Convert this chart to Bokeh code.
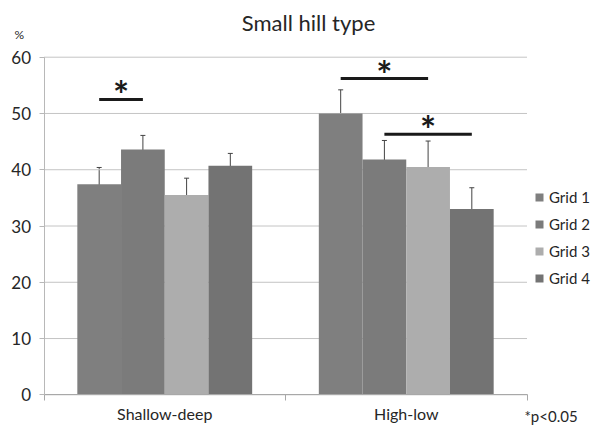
import numpy as np
from bokeh.plotting import figure
from bokeh.models import (Range1d, FixedTicker, ColumnDataSource, Whisker, TeeHead,
                          Legend, LegendItem, Label)
from bokeh.core.properties import value
from bokeh.embed import file_html
from bokeh.resources import INLINE

# ---- data ----
categories = ["Shallow-deep", "High-low"]
grids = ["Grid 1", "Grid 2", "Grid 3", "Grid 4"]
grid1_mean = [37.4, 50.0]
grid2_mean = [43.6, 41.8]
grid3_mean = [35.5, 40.5]
grid4_mean = [40.7, 33.0]
grid1_err = [3.0, 4.2]
grid2_err = [2.5, 3.4]
grid3_err = [3.0, 4.6]
grid4_err = [2.2, 3.8]
y_ticks = [0, 10, 20, 30, 40, 50, 60]
# significance brackets: category index, from grid, to grid, height
sig_cat = [0, 1, 1]
sig_from = [0, 0, 1]
sig_to = [1, 2, 3]
sig_y = [52.5, 56.2, 46.3]

means = [grid1_mean, grid2_mean, grid3_mean, grid4_mean]
errs = [grid1_err, grid2_err, grid3_err, grid4_err]
colors = ["#7f7f7f", "#7b7b7b", "#adadad", "#737373"]
FONT = "Lato"
TXT = "#262626"
bar_w = 0.181

# ---- layout (pixels) ----
W, H = 593, 425
x0_px, cat_px = 43.5, 241.5          # screen x of category origin, px per category
y0_px, unit_px = 394.3, 337.6 / 60   # screen y of value 0, px per unit
x_start = -x0_px / cat_px
x_end = x_start + W / cat_px
y_start = -(H - y0_px) / unit_px
y_end = y0_px / unit_px

def bar_x(ci, gi):
    return ci + 0.5 + (gi - 1.5) * bar_w

p = figure(width=W, height=H, output_backend="svg", toolbar_location=None,
           x_range=Range1d(x_start, x_end), y_range=Range1d(y_start, y_end),
           min_border=0)
p.background_fill_color = "white"
p.outline_line_color = None
p.xgrid.visible = False
p.ygrid.visible = False

ncat = len(categories)
# horizontal gridlines across the category area
p.segment(x0=[0] * len(y_ticks), x1=[ncat] * len(y_ticks), y0=y_ticks, y1=y_ticks,
          line_color="#c4c4c4", line_width=1)

renderers = []
for gi, g in enumerate(grids):
    xs = [bar_x(ci, gi) for ci in range(ncat)]
    src = ColumnDataSource(dict(x=xs, top=means[gi],
                                upper=[m + e for m, e in zip(means[gi], errs[gi])],
                                lower=[m - e for m, e in zip(means[gi], errs[gi])]))
    r = p.vbar(x="x", top="top", width=bar_w, bottom=0, source=src,
               fill_color=colors[gi], line_color=None)
    renderers.append(r)
    w = Whisker(base="x", upper="upper", lower="lower", source=src,
                line_color="#444444", line_width=1,
                upper_head=TeeHead(size=5, line_color="#444444", line_width=1),
                lower_head=TeeHead(size=5, line_color="#444444", line_width=1))
    p.add_layout(w)

# significance lines and stars
sx0 = [bar_x(c, a) for c, a in zip(sig_cat, sig_from)]
sx1 = [bar_x(c, b) for c, b in zip(sig_cat, sig_to)]
p.segment(x0=sx0, y0=sig_y, x1=sx1, y1=sig_y, line_color="#1a1a1a", line_width=3)
p.text(x=[(a + b) / 2 for a, b in zip(sx0, sx1)], y=sig_y, text=["*"] * len(sig_y),
       text_align="center", text_baseline="alphabetic", text_font=value(FONT),
       text_font_style="bold", text_font_size="38px", text_color="#1a1a1a", y_offset=-5)

# axes fixed at the value/category origins
p.yaxis.fixed_location = 0
p.yaxis.bounds = (0, 60)
p.yaxis.ticker = FixedTicker(ticks=y_ticks)
p.yaxis.axis_line_color = "#b8b8b8"
p.yaxis.major_tick_line_color = "#b8b8b8"
p.yaxis.major_tick_out = 5
p.yaxis.major_tick_in = 0
p.yaxis.minor_tick_out = 0
p.yaxis.minor_tick_in = 0
p.yaxis.major_label_text_font = FONT
p.yaxis.major_label_text_font_size = "17px"
p.yaxis.major_label_text_color = TXT
p.yaxis.major_label_standoff = 8

p.xaxis.fixed_location = 0
p.xaxis.bounds = (0, ncat)
p.xaxis.ticker = FixedTicker(ticks=[i + 0.5 for i in range(ncat)],
                             minor_ticks=list(range(ncat + 1)))
p.xaxis.major_label_overrides = {i + 0.5: c for i, c in enumerate(categories)}
p.xaxis.axis_line_color = "#a8a8a8"
p.xaxis.major_tick_out = 0
p.xaxis.major_tick_in = 0
p.xaxis.minor_tick_out = 6
p.xaxis.minor_tick_in = 0
p.xaxis.minor_tick_line_color = "#a8a8a8"
p.xaxis.major_label_text_font = FONT
p.xaxis.major_label_text_font_size = "16px"
p.xaxis.major_label_text_color = TXT
p.xaxis.major_label_standoff = 3

legend = Legend(items=[LegendItem(label=g, renderers=[r]) for g, r in zip(grids, renderers)],
                location=(534, 137), padding=0, margin=0, border_line_color=None,
                background_fill_alpha=0, glyph_width=10, glyph_height=10, label_standoff=5,
                spacing=7, label_height=20, label_text_font=FONT, label_text_font_size="15px",
                label_text_color=TXT)
p.add_layout(legend)

p.add_layout(Label(x=308, y=H - 22, x_units="screen", y_units="screen", text="Small hill type",
                   text_font=FONT, text_font_size="22px", text_color=TXT,
                   text_align="center", text_baseline="alphabetic"))
p.add_layout(Label(x=14, y=H - 34, x_units="screen", y_units="screen", text="%",
                   text_font=FONT, text_font_size="12px", text_color=TXT,
                   text_align="left", text_baseline="alphabetic"))
p.add_layout(Label(x=524, y=10, x_units="screen", y_units="screen", text="*p<0.05",
                   text_font=FONT, text_font_size="15px", text_color=TXT,
                   text_align="left", text_baseline="alphabetic"))

open("out.html", "w").write(file_html(p, INLINE))
